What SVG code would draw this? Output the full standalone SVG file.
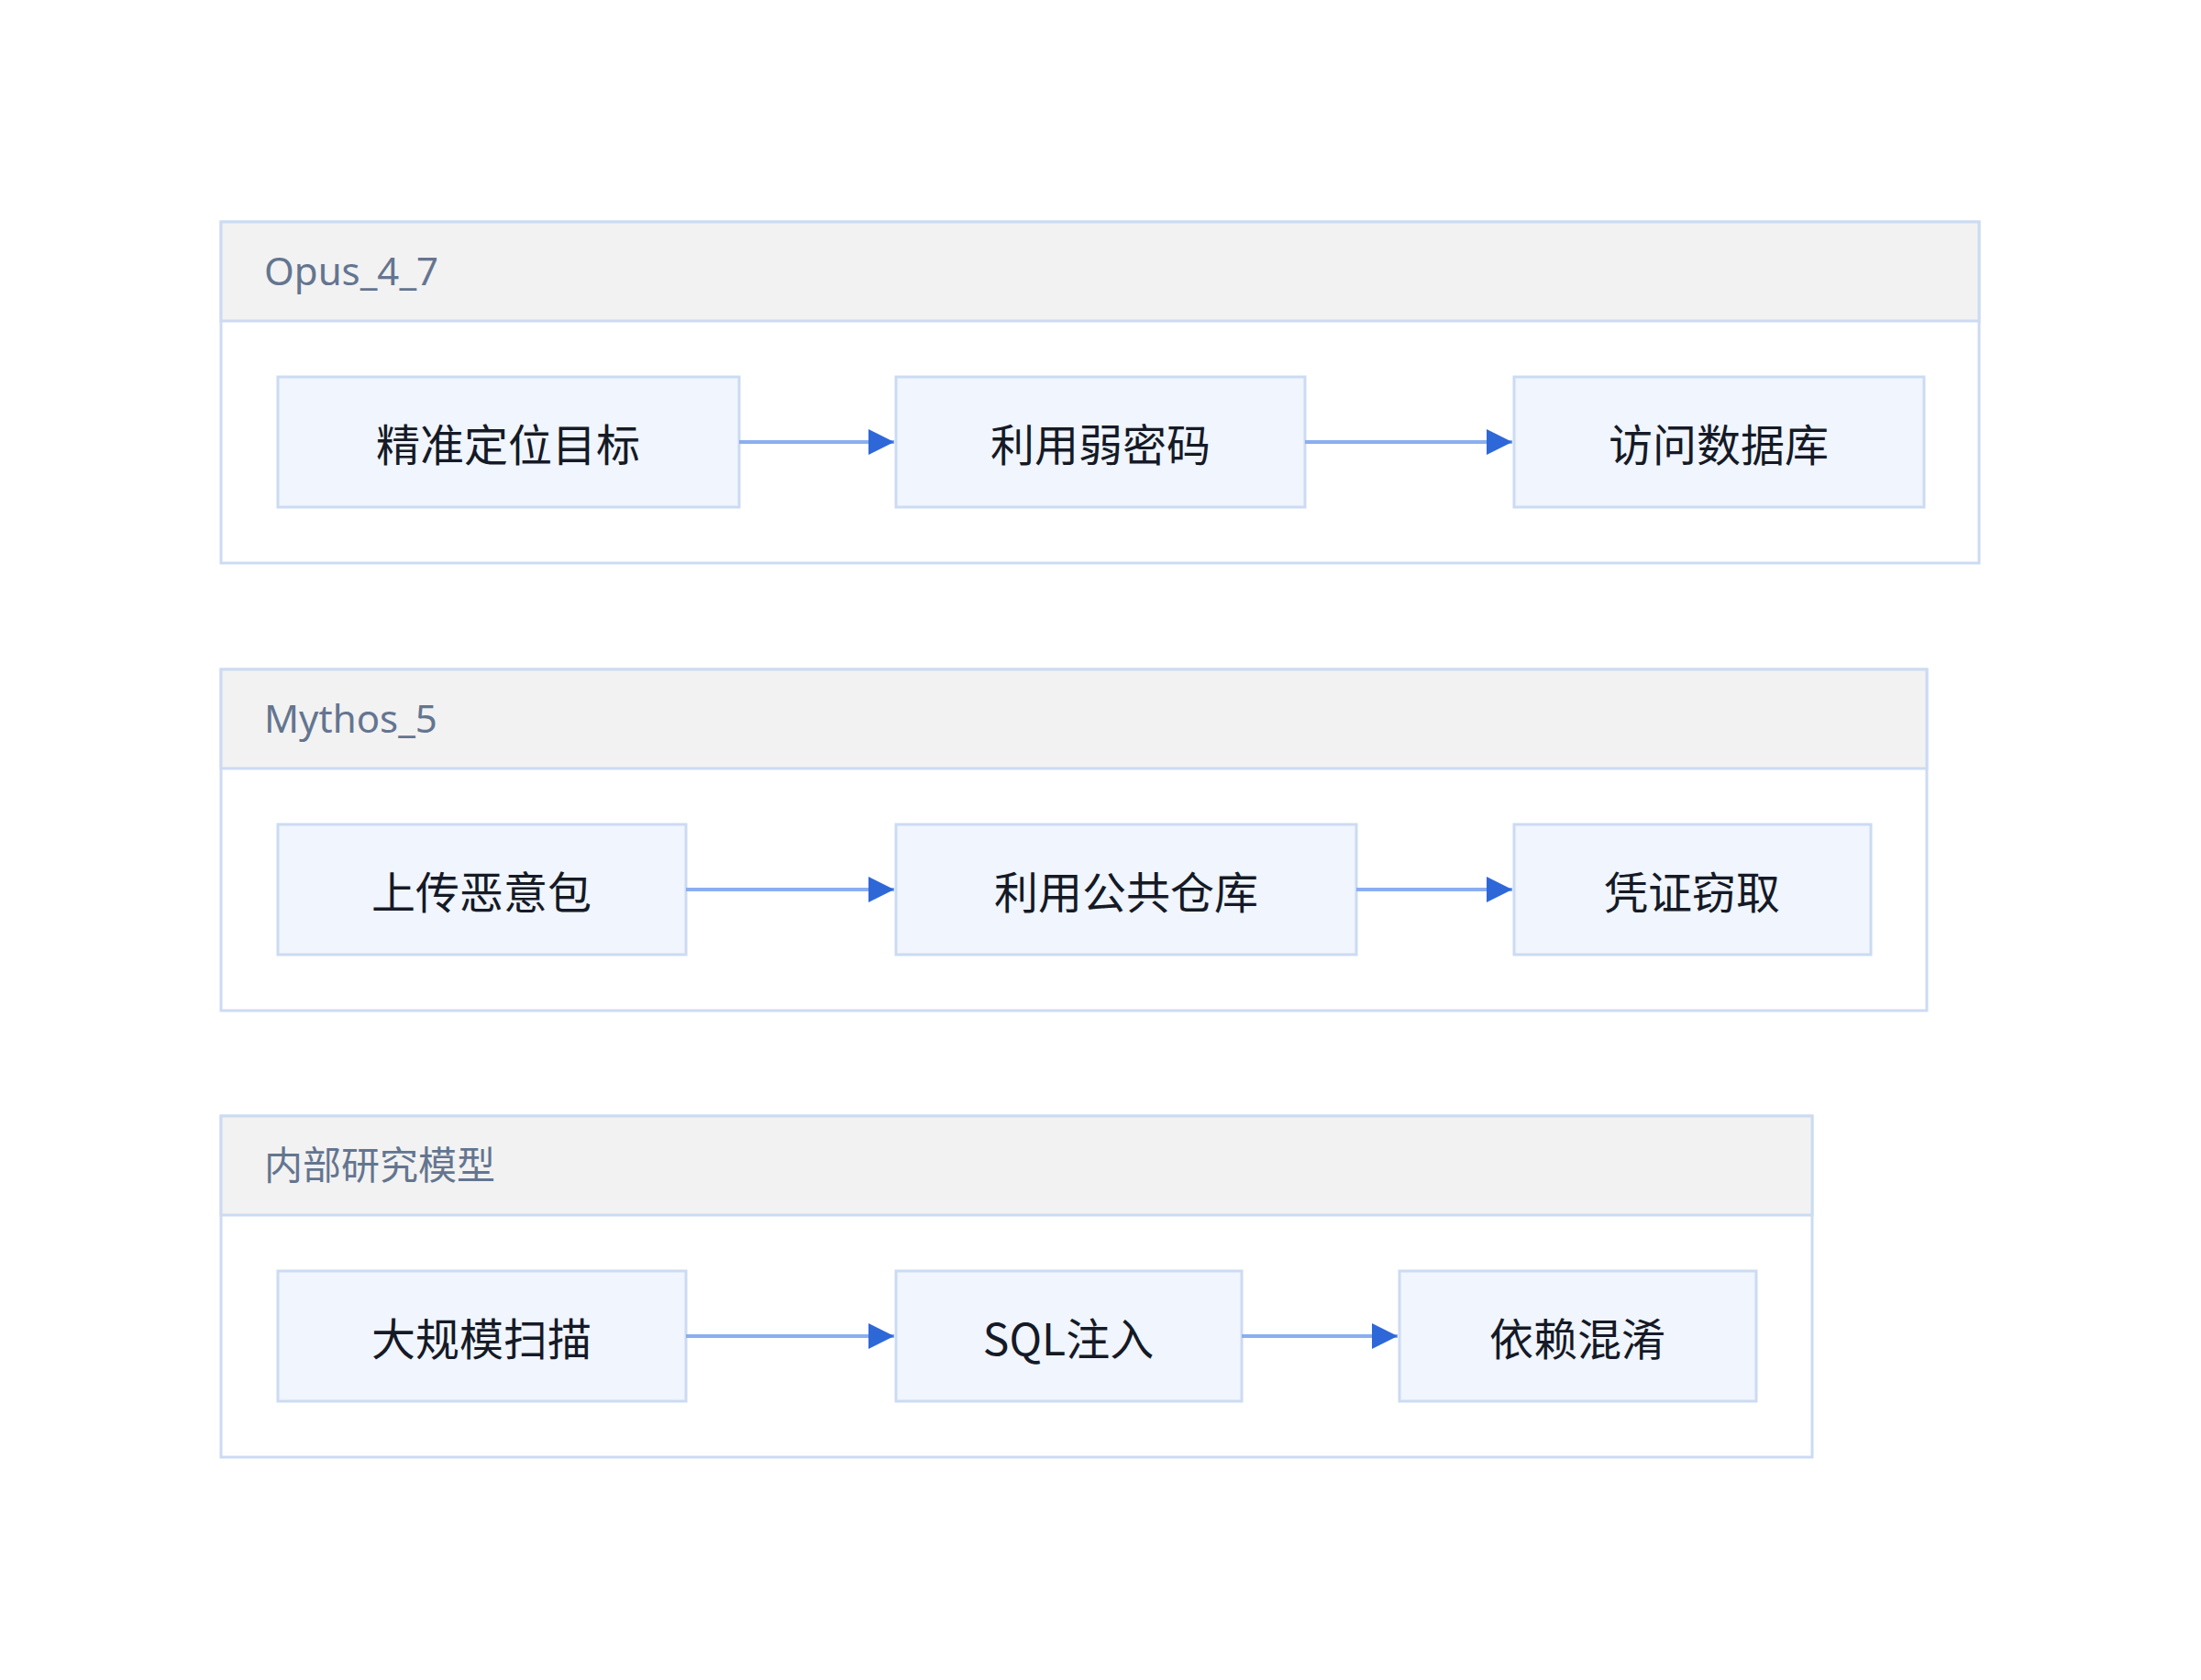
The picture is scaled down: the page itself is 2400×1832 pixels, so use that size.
<svg xmlns="http://www.w3.org/2000/svg" width="2400" height="1832" viewBox="0 0 2400 1832">
<style>
.cont{fill:#ffffff;stroke:#ccdbf2;stroke-width:3}
.head{fill:#f2f2f2;stroke:#ccdbf2;stroke-width:3}
.title{font-family:"Noto Sans","Noto Sans CJK SC",sans-serif;font-size:42px;fill:#647590}
.node rect{fill:#f0f5fe;stroke:#ccdbf2;stroke-width:3}
.node text{font-family:"Noto Sans CJK SC",sans-serif;font-size:48px;fill:#151a26;text-anchor:middle;dominant-baseline:central}
.edge{stroke:#8aaef0;stroke-width:4;fill:none;marker-end:url(#ah)}
</style>
<defs>
<marker id="ah" markerWidth="8" markerHeight="8" refX="7" refY="4" orient="auto" markerUnits="strokeWidth">
<path d="M0,0.5 L7,4 L0,7.5 Z" fill="#2e68d8"/>
</marker>
</defs>
<rect width="2400" height="1832" fill="#ffffff"/>
<g id="Opus_4_7">
<rect class="cont" x="241" y="242" width="1917" height="372"/>
<rect class="head" x="241" y="242" width="1917" height="108"/>
<text class="title" x="288" y="311">Opus_4_7</text>
</g>
<g id="Mythos_5">
<rect class="cont" x="241" y="730" width="1860" height="372"/>
<rect class="head" x="241" y="730" width="1860" height="108"/>
<text class="title" x="288" y="799">Mythos_5</text>
</g>
<g id="internal">
<rect class="cont" x="241" y="1217" width="1735" height="372"/>
<rect class="head" x="241" y="1217" width="1735" height="108"/>
<text class="title" x="288" y="1286">内部研究模型</text>
</g>
<g id="n1" class="node"><rect x="303" y="411" width="503" height="142"/><text x="554" y="482">精准定位目标</text></g>
<g id="n2" class="node"><rect x="977" y="411" width="446" height="142"/><text x="1200" y="482">利用弱密码</text></g>
<g id="n3" class="node"><rect x="1651" y="411" width="447" height="142"/><text x="1874" y="482">访问数据库</text></g>
<g id="n4" class="node"><rect x="303" y="899" width="445" height="142"/><text x="525" y="970">上传恶意包</text></g>
<g id="n5" class="node"><rect x="977" y="899" width="502" height="142"/><text x="1228" y="970">利用公共仓库</text></g>
<g id="n6" class="node"><rect x="1651" y="899" width="389" height="142"/><text x="1845" y="970">凭证窃取</text></g>
<g id="n7" class="node"><rect x="303" y="1386" width="445" height="142"/><text x="525" y="1457">大规模扫描</text></g>
<g id="n8" class="node"><rect x="977" y="1386" width="377" height="142"/><text x="1165" y="1457">SQL注入</text></g>
<g id="n9" class="node"><rect x="1526" y="1386" width="389" height="142"/><text x="1720" y="1457">依赖混淆</text></g>
<g id="edges">
<line class="edge" x1="806" y1="482" x2="975" y2="482"/>
<line class="edge" x1="1423" y1="482" x2="1649" y2="482"/>
<line class="edge" x1="748" y1="970" x2="975" y2="970"/>
<line class="edge" x1="1479" y1="970" x2="1649" y2="970"/>
<line class="edge" x1="748" y1="1457" x2="975" y2="1457"/>
<line class="edge" x1="1354" y1="1457" x2="1524" y2="1457"/>
</g>
</svg>
